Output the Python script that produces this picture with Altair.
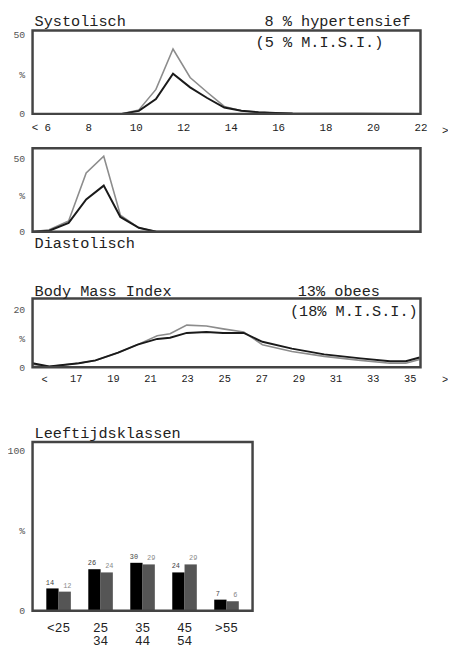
import altair as alt
import pandas as pd

# ---------------- data ----------------
# Systolic blood pressure (cmHg) distribution, % of group
sys_x = [5.65, 9.41, 10.13, 10.85, 11.57, 12.29, 13.01, 13.73, 14.45, 15.17, 15.89, 16.61, 22.0]
sys_dark = [0, 0, 1.9, 9.3, 25.3, 16.7, 10.0, 4.0, 2.0, 1.0, 0.5, 0.2, 0]
sys_light = [0, 0, 2.5, 15.4, 40.8, 22.9, 13.6, 4.7, 2.0, 1.0, 0.5, 0.2, 0]

# Diastolic blood pressure (cmHg)
dia_x = [5.65, 6.35, 7.17, 7.91, 8.65, 9.35, 10.13, 10.87, 22.0]
dia_dark = [0, 0.7, 6.0, 22.1, 31.5, 10.1, 2.7, 0, 0]
dia_light = [0, 1.3, 7.4, 40.2, 51.6, 11.4, 2.7, 0, 0]

# Body Mass Index
bmi_x = [14.67, 15.57, 17.16, 18.06, 19.28, 20.33, 21.39, 22.08, 22.98, 24.04,
         24.94, 26.05, 27.06, 28.65, 30.39, 32.35, 33.94, 34.79, 35.53]
bmi_dark = [1.4, 0.3, 1.4, 2.4, 5.1, 7.9, 9.9, 10.3, 12.0, 12.3,
            12.0, 12.0, 8.9, 6.5, 4.5, 3.1, 2.1, 2.1, 3.4]
bmi_light = [1.0, 0.3, 1.4, 2.4, 5.1, 7.9, 11.0, 11.7, 14.7, 14.4,
             13.4, 12.3, 7.9, 5.5, 3.8, 2.4, 1.4, 1.4, 2.7]

# Age classes (%)
ages = ["<25", "25-34", "35-44", "45-54", ">55"]
age_black = [14, 26, 30, 24, 7]
age_gray = [12, 24, 29, 29, 6]

sys_ticks = [6, 8, 10, 12, 14, 16, 18, 20, 22]
bmi_ticks = [17, 19, 21, 23, 25, 27, 29, 31, 33, 35]

# ---------------- styling / layout ----------------
MONO = "Liberation Mono"
BOX = "#444444"
DARK = "#1a1a1a"
LIGHT = "#8c8c8c"
TXT = "#222222"
W = 395
H = 591

sys_dom = [5.65, 22.0]
bmi_dom = [14.67, 35.58]
p1_ydom, p1_yr = [0, 52.5], [85, 0]
p2_ydom, p2_yr = [0, 57], [205, 120]
p3_ydom, p3_yr = [0, 24], [343, 273]
p4_ydom, p4_yr = [0, 105.5], [591, 419]
p4_w = 224


def qscale(dom, rng):
    return alt.Scale(domain=dom, range=rng, nice=False, zero=False)


def long_df(xs, a, b):
    return pd.DataFrame({
        "x": xs + xs,
        "y": a + b,
        "series": ["A"] * len(xs) + ["B"] * len(xs),
    })


one = pd.DataFrame({"k": [0]})


def yaxis(vals, mid):
    return alt.Axis(values=vals, orient="left", offset=0, title=None,
                    labelExpr=f"datum.value == {mid} ? '%' : datum.label",
                    grid=False, ticks=False, tickSize=0, domain=False,
                    labelPadding=8, labelFont=MONO, labelFontSize=10,
                    labelColor="#555555", labelFlush=False, labelOverlap=False)


def lines(df, xs, ys, xaxis=None, yax=None):
    out = []
    for s, col, sw in (("B", LIGHT, 1.6), ("A", DARK, 2.0)):
        out.append(
            alt.Chart(df).transform_filter(alt.datum.series == s)
            .mark_line(color=col, strokeWidth=sw)
            .encode(
                x=alt.X("x:Q", scale=xs, axis=xaxis if s == "B" else None),
                y=alt.Y("y:Q", scale=ys, axis=yax if s == "B" else None),
            )
        )
    return out


def box(xdom, xrng, ydom, yrng):
    df = pd.DataFrame({"x0": [xdom[0]], "x1": [xdom[1]], "y0": [ydom[0]], "y1": [ydom[1]]})
    return alt.Chart(df).mark_rect(fillOpacity=0, stroke=BOX, strokeWidth=2.5).encode(
        x=alt.X("x0:Q", scale=qscale(xdom, xrng), axis=None),
        x2="x1:Q",
        y=alt.Y("y0:Q", scale=qscale(ydom, yrng), axis=None),
        y2="y1:Q",
    )


def label(text, px, py, size=15.5, align="left", color=TXT):
    return alt.Chart(one).mark_text(
        text=text, font=MONO, fontSize=size, align=align, baseline="alphabetic", color=color
    ).encode(x=alt.value(px), y=alt.value(py))


layers = []

# ---- Panel 1: Systolisch ----
sx = qscale(sys_dom, [0, W])
sys_xaxis = alt.Axis(values=sys_ticks, orient="bottom", offset=85 - H, title=None,
                     labelExpr="datum.value == 6 ? '< 6' : datum.label",
                     grid=False, ticks=False, tickSize=0, domain=False,
                     labelPadding=8, labelFont=MONO, labelFontSize=11,
                     labelColor=TXT, labelFlush=False, labelOverlap=False)
layers += lines(long_df(sys_x, sys_dark, sys_light), sx, qscale(p1_ydom, p1_yr),
                xaxis=sys_xaxis, yax=yaxis([0, 25, 50], 25))
layers.append(box(sys_dom, [0, W], p1_ydom, p1_yr))
layers.append(label("Systolisch", 2, -4))
layers.append(label("8 % hypertensief", 385, -4, align="right"))
layers.append(label("(5 % M.I.S.I.)", 227, 17))
layers.append(label(">", 417, 105, size=11))

# ---- Panel 2: Diastolisch ----
layers += lines(long_df(dia_x, dia_dark, dia_light), qscale(sys_dom, [0, W]),
                qscale(p2_ydom, p2_yr), yax=yaxis([0, 25, 50], 25))
layers.append(box(sys_dom, [0, W], p2_ydom, p2_yr))
layers.append(label("Diastolisch", 2, 222))

# ---- Panel 3: Body Mass Index ----
bmi_xaxis = alt.Axis(values=bmi_ticks, orient="bottom", offset=343 - H, title=None,
                     grid=False, ticks=False, tickSize=0, domain=False,
                     labelPadding=6, labelFont=MONO, labelFontSize=10.5,
                     labelColor=TXT, labelFlush=False, labelOverlap=False)
layers += lines(long_df(bmi_x, bmi_dark, bmi_light), qscale(bmi_dom, [0, W]),
                qscale(p3_ydom, p3_yr), xaxis=bmi_xaxis, yax=yaxis([0, 10, 20], 10))
layers.append(box(bmi_dom, [0, W], p3_ydom, p3_yr))
layers.append(label("Body Mass Index", 2, 270))
layers.append(label("13% obees", 270, 270))
layers.append(label("(18% M.I.S.I.)", 262, 291))
layers.append(label("<", 9, 359, size=10.5))
layers.append(label(">", 417, 359, size=10.5))

# ---- Panel 4: Leeftijdsklassen ----
bars = pd.DataFrame({
    "age": ages + ages,
    "pct": age_black + age_gray,
    "series": ["A"] * len(ages) + ["B"] * len(ages),
})


def age_x(axis):
    return alt.X("age:N", sort=ages,
                 scale=alt.Scale(domain=ages, range=[0, p4_w], paddingInner=0, paddingOuter=0.12),
                 axis=axis)


xoff = alt.XOffset("series:N", scale=alt.Scale(domain=["A", "B"], paddingInner=0, paddingOuter=0.71))
age_axis = alt.Axis(orient="bottom", offset=0, labelAngle=0, title=None,
                    labelExpr="split(datum.label, '-')",
                    grid=False, ticks=False, tickSize=0, domain=False,
                    labelPadding=11, labelFont=MONO, labelFontSize=13,
                    labelLineHeight=13, labelColor=TXT, labelOverlap=False)

layers.append(
    alt.Chart(bars).mark_bar().encode(
        x=age_x(age_axis),
        xOffset=xoff,
        y=alt.Y("pct:Q", scale=qscale(p4_ydom, p4_yr), axis=yaxis([0, 50, 100], 50)),
        color=alt.Color("series:N", scale=alt.Scale(domain=["A", "B"], range=["#000000", "#555555"]),
                        legend=None),
    )
)
layers.append(
    alt.Chart(bars).mark_text(font=MONO, fontSize=7, baseline="bottom", dy=-3).encode(
        x=age_x(None),
        xOffset=xoff,
        y=alt.Y("pct:Q", scale=qscale(p4_ydom, p4_yr), axis=None),
        text=alt.Text("pct:Q"),
        color=alt.Color("series:N", scale=alt.Scale(domain=["A", "B"], range=["#444444", "#8a8a8a"]),
                        legend=None),
    )
)
layers.append(box([0, 1], [0, p4_w], p4_ydom, p4_yr))
layers.append(label("Leeftijdsklassen", 2, 415))

chart = (
    alt.layer(*layers)
    .resolve_scale(x="independent", y="independent", color="independent", xOffset="independent")
    .properties(
        width=W,
        height=H,
        autosize=alt.AutoSizeParams(type="none"),
        padding={"left": 25, "top": 17, "right": 28, "bottom": 31},
    )
    .configure_view(stroke=None)
)

chart.save("out.html", embed_options={"renderer": "svg", "actions": False})
